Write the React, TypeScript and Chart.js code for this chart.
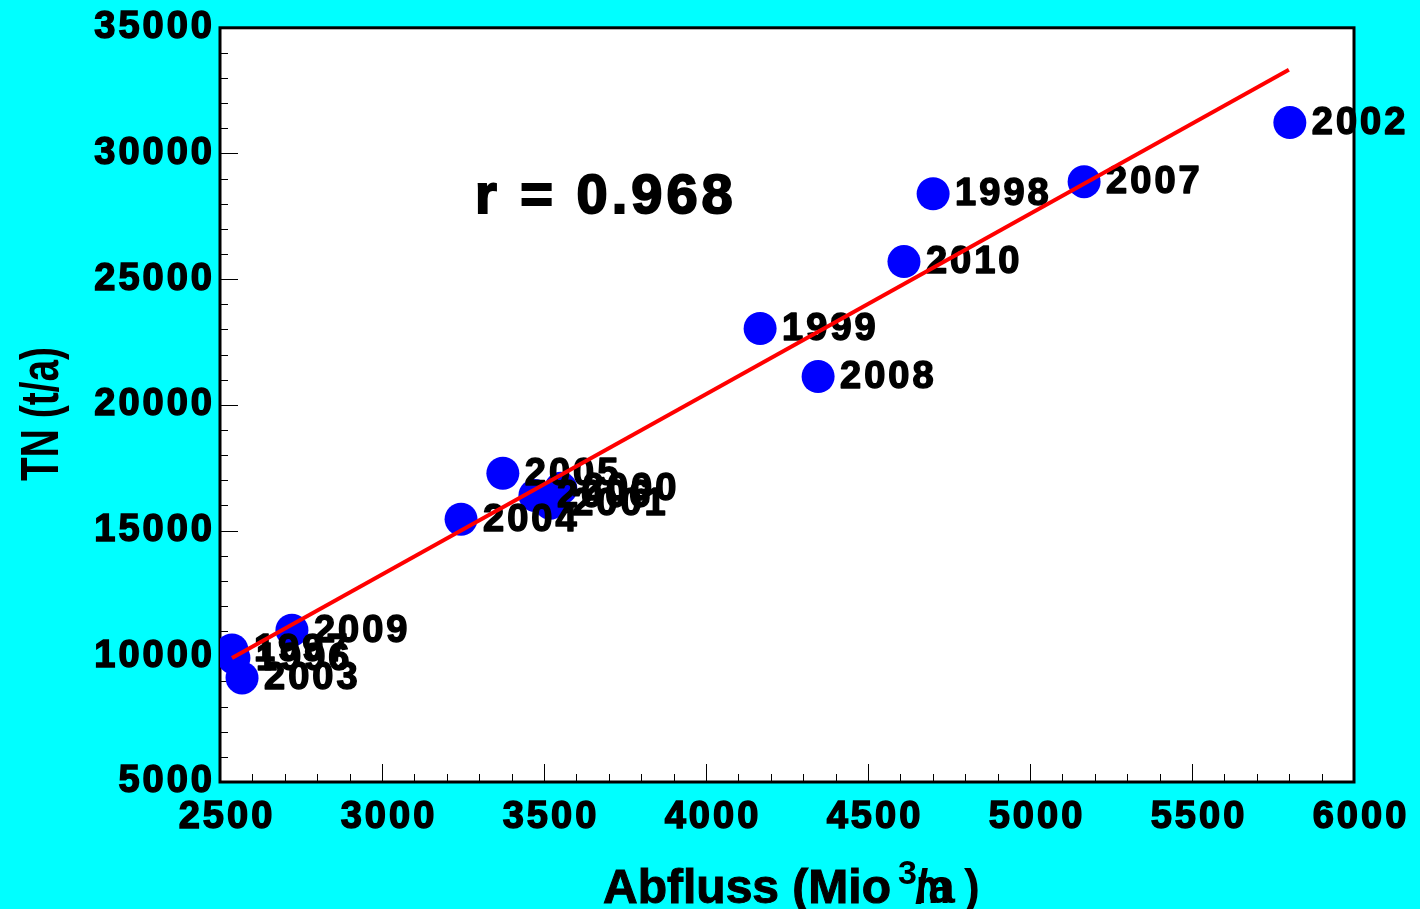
import { useEffect, useRef } from 'react';
import { Chart, registerables } from 'chart.js';

Chart.register(...registerables);

const years = ['1996', '1997', '1998', '1999', '2000', '2001', '2002', '2003', '2004', '2005', '2006', '2007', '2008', '2009', '2010'];
const abfluss = [2543, 2537, 4701, 4167, 3552, 3519, 5802, 2568, 3244, 3373, 3472, 5167, 4346, 2722, 4611];
const tnValues = [9930, 10250, 28400, 23040, 16680, 16090, 31230, 9140, 15450, 17280, 16400, 28880, 21130, 11040, 25700];
const fitX = [2537, 5799];
const fitY = [9930, 33330];
const xMajorTicks = [2500, 3000, 3500, 4000, 4500, 5000, 5500, 6000];
const yMajorTicks = [5000, 10000, 15000, 20000, 25000, 30000, 35000];
const rText = 'r = 0.968';
const xTitle = 'Abfluss (Mio';
const yTitle = 'TN (t/a)';

const FONT = '"Liberation Sans", Arial, sans-serif';

export default function App() {
  const ref = useRef<HTMLCanvasElement>(null);
  useEffect(() => {
    document.body.style.margin = '0';
    const canvas = ref.current!;
    const setSpacing = (chart: any) => {
      (chart.ctx as any).letterSpacing = '3px';
    };
    const decor = {
      id: 'decor',
      beforeUpdate(chart: any) { setSpacing(chart); },
      beforeDraw(chart: any) {
        const { ctx, chartArea: a } = chart;
        ctx.save();
        ctx.fillStyle = '#00ffff';
        ctx.fillRect(0, 0, chart.width, chart.height);
        ctx.fillStyle = '#ffffff';
        ctx.fillRect(a.left, a.top, a.right - a.left, a.bottom - a.top);
        ctx.restore();
        setSpacing(chart);
      },
      beforeDatasetsDraw(chart: any) {
        const { ctx, chartArea: a, scales } = chart;
        const xs = scales.x, ys = scales.y;
        ctx.save();
        ctx.strokeStyle = '#000';
        ctx.lineWidth = 1;
        ctx.beginPath();
        for (let v = 2500; v <= 6000; v += 100) {
          const px = Math.round(xs.getPixelForValue(v)) + 0.5;
          const len = v % 500 === 0 ? 18 : 8;
          ctx.moveTo(px, a.bottom);
          ctx.lineTo(px, a.bottom - len);
        }
        for (let v = 5000; v <= 35000; v += 1000) {
          const py = Math.round(ys.getPixelForValue(v)) + 0.5;
          const len = v % 5000 === 0 ? 18 : 8;
          ctx.moveTo(a.left, py);
          ctx.lineTo(a.left + len, py);
        }
        ctx.stroke();
        ctx.lineWidth = 3;
        ctx.strokeRect(a.left, a.top, a.right - a.left, a.bottom - a.top);
        // r text
        ctx.fillStyle = '#000';
        ctx.strokeStyle = '#000';
        ctx.lineWidth = 2;
        (ctx as any).letterSpacing = '4px';
        ctx.font = `bold 56px ${FONT}`;
        ctx.textAlign = 'left';
        ctx.textBaseline = 'alphabetic';
        ctx.fillText(rText, 475, 213);
        ctx.strokeText(rText, 475, 213);
        ctx.restore();
      },
      afterDatasetDraw(chart: any, args: any) {
        if (args.index !== 0) return;
        const { ctx } = chart;
        ctx.save();
        (ctx as any).letterSpacing = '3px';
        ctx.fillStyle = '#000';
        ctx.strokeStyle = '#000';
        ctx.lineWidth = 1.5;
        ctx.lineJoin = 'round';
        ctx.font = `bold 38px ${FONT}`;
        ctx.textAlign = 'left';
        ctx.textBaseline = 'middle';
        args.meta.data.forEach((el: any, i: number) => {
          ctx.fillText(years[i], el.x + 22, el.y + 1);
          ctx.strokeText(years[i], el.x + 22, el.y + 1);
        });
        ctx.restore();
      },
      afterDraw(chart: any) {
        const { ctx } = chart;
        ctx.save();
        (ctx as any).letterSpacing = '0px';
        ctx.fillStyle = '#000';
        ctx.strokeStyle = '#000';
        ctx.lineWidth = 1;
        ctx.textBaseline = 'alphabetic';
        ctx.textAlign = 'left';
        ctx.font = `bold 48px ${FONT}`;
        ctx.fillText(xTitle, 603, 903);
        ctx.strokeText(xTitle, 603, 903);
        ctx.font = `bold 34px ${FONT}`;
        ctx.fillText('3', 898, 884);
        ctx.font = `bold 48px ${FONT}`;
        ctx.save();
        ctx.translate(916, 903);
        ctx.scale(0.8, 1);
        ctx.fillText('m', 0, 0);
        ctx.restore();
        ctx.fillText('/a', 915, 903);
        ctx.fillText(')', 964, 903);
        // y title, rotated and condensed
        ctx.translate(58, 414);
        ctx.rotate(-Math.PI / 2);
        ctx.scale(0.72, 1);
        ctx.font = `bold 54px ${FONT}`;
        ctx.textAlign = 'center';
        ctx.fillText(yTitle, 0, 0);
        ctx.restore();
        setSpacing(chart);
      },
    };

    const tickFont = { family: FONT, size: 38, weight: 'bold' as const };
    const chart = new Chart(canvas, {
      type: 'scatter',
      data: {
        datasets: [
          {
            label: 'TN',
            data: abfluss.map((x, i) => ({ x, y: tnValues[i] })),
            backgroundColor: '#0000ff',
            borderWidth: 0,
            pointRadius: 16.5,
            pointHoverRadius: 16.5,
            order: 1,
          },
          {
            label: 'fit',
            type: 'line',
            data: fitX.map((x, i) => ({ x, y: fitY[i] })),
            borderColor: '#ff0000',
            borderWidth: 4,
            pointRadius: 0,
            showLine: true,
            fill: false,
            order: 0,
          } as any,
        ],
      },
      options: {
        animation: false,
        responsive: false,
        devicePixelRatio: 1,
        layout: { padding: { top: 27, right: 66, left: 0, bottom: 0 } },
        plugins: { legend: { display: false }, tooltip: { enabled: false }, title: { display: false } },
        scales: {
          x: {
            type: 'linear',
            min: 2500,
            max: 6000,
            afterFit(s: any) { s.height = 127; },
            afterBuildTicks(s: any) { s.ticks = xMajorTicks.map((v) => ({ value: v })); },
            grid: { display: false, drawTicks: false },
            border: { display: false },
            ticks: {
              color: '#000',
              font: tickFont,
              textStrokeColor: '#000',
              textStrokeWidth: 1.5,
              padding: 13,
              labelOffset: 7,
              maxRotation: 0,
              autoSkip: false,
              callback: (v: any) => String(v),
            },
          },
          y: {
            type: 'linear',
            min: 5000,
            max: 35000,
            afterFit(s: any) { s.width = 220; },
            afterBuildTicks(s: any) { s.ticks = yMajorTicks.map((v) => ({ value: v })); },
            grid: { display: false, drawTicks: false },
            border: { display: false },
            ticks: {
              color: '#000',
              font: tickFont,
              textStrokeColor: '#000',
              textStrokeWidth: 1.5,
              padding: 5,
              autoSkip: false,
              callback: (v: any) => String(v),
            },
          },
        },
      },
      plugins: [decor],
    });
    return () => chart.destroy();
  }, []);
  return <canvas ref={ref} width={1420} height={909} style={{ display: 'block' }} />;
}
